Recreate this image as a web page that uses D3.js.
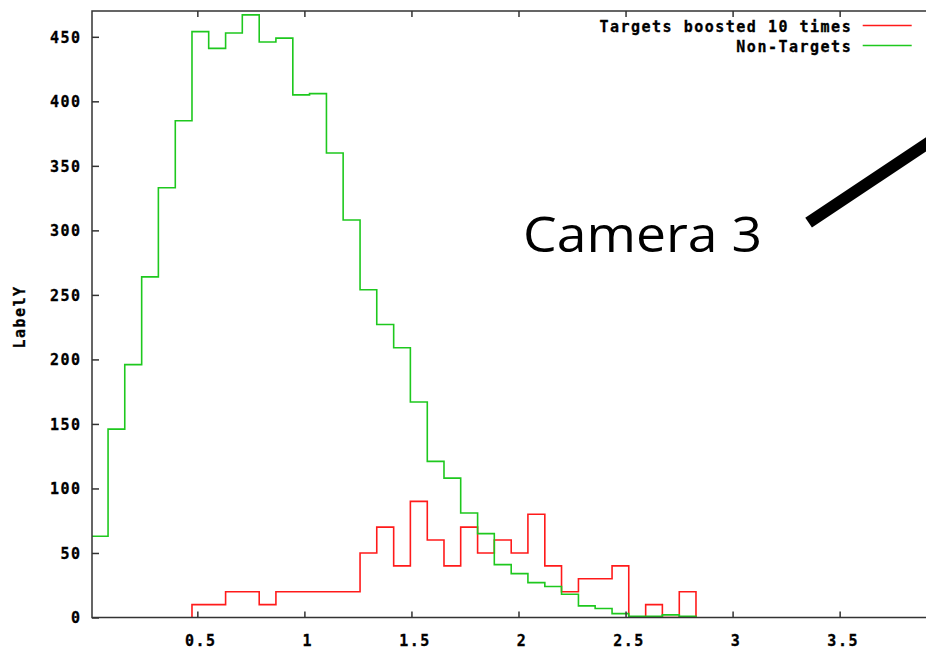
<!DOCTYPE html>
<html>
<head>
<meta charset="utf-8">
<script src="https://cdn.jsdelivr.net/npm/d3@7"></script>
<style>
  body { margin: 0; background: #fff; }
  svg { display: block; }
  .gp { font-family: "DejaVu Sans Mono", monospace; font-weight: bold; font-size: 15px; letter-spacing: 1.5px; fill: #000; stroke: #000; stroke-width: 0.3px; }
</style>
</head>
<body>
<svg id="chart" width="926" height="650"></svg>
<script>

// histogram bin edges (x)
const binEdges = [0.004, 0.083, 0.161, 0.240, 0.318, 0.397, 0.475, 0.553, 0.632, 0.710,
                  0.789, 0.867, 0.946, 1.024, 1.103, 1.181, 1.260, 1.338, 1.417, 1.495,
                  1.574, 1.652, 1.730, 1.809, 1.887, 1.966, 2.044, 2.123, 2.201, 2.280,
                  2.358, 2.437, 2.515, 2.594, 2.672, 2.751, 2.829];

// counts per bin
const nonTargets = [63, 146, 196, 264, 333, 385, 454, 441, 453, 467,
                    446, 449, 405, 406, 360, 308, 254, 227, 209, 167,
                    121, 108, 81, 65, 41, 34, 27, 24, 18, 9,
                    7, 3, 1, 1, 2, 1];

const targets = [null, null, null, null, null, null, 10, 10, 20, 20,
                 10, 20, 20, 20, 20, 20, 50, 70, 40, 90,
                 60, 40, 70, 50, 60, 50, 80, 40, 20, 30,
                 30, 40, 0, 10, 0, 20];

const seriesNames = ["Targets boosted 10 times", "Non-Targets"];
const seriesColors = ["#ff1a1a", "#1ec81e"];

const xTicks = [0.5, 1, 1.5, 2, 2.5, 3, 3.5];
const yTicks = [0, 50, 100, 150, 200, 250, 300, 350, 400, 450];

const width = 926, height = 650;
const plotLeft = 92, plotTop = 11, plotBottom = 617.5, plotRight = 946.7;

let svg = d3.select("#chart");

let x = d3.scaleLinear().domain([0.008, 4]).range([plotLeft, plotRight]);
let y = d3.scaleLinear().domain([0, 470]).range([plotBottom, plotTop]);

svg.append("defs").append("clipPath")
   .attr("id", "plotclip")
   .append("rect")
   .attr("x", plotLeft).attr("y", plotTop)
   .attr("width", plotRight - plotLeft).attr("height", plotBottom - plotTop);

// histeps: up from zero, across each bin, back down at the end
function stepPoints(values){
  let pts = [];
  let first = values.findIndex((v)=> v != null);
  pts.push([binEdges[first], 0]);
  for (let i = first; i < values.length; i++){
    pts.push([binEdges[i], values[i]]);
    pts.push([binEdges[i+1], values[i]]);
  }
  pts.push([binEdges[values.length], 0]);
  return pts;
}

let line = d3.line()
    .x((d)=> x(d[0]))
    .y((d)=> y(d[1]));

let plot = svg.append("g").attr("clip-path", "url(#plotclip)");

[targets, nonTargets].forEach((vals, i)=>{
  plot.append("path")
      .attr("d", line(stepPoints(vals)))
      .attr("fill", "none")
      .attr("stroke", seriesColors[i])
      .attr("stroke-width", 1.6)
      .attr("stroke-linejoin", "miter");
});

// axes, ticks pointing inwards
let xAxis = svg.append("g")
    .attr("transform", `translate(0,${plotBottom})`)
    .call(d3.axisBottom(x).tickValues(xTicks).tickFormat(d3.format("~g")).tickSize(-6).tickPadding(17.5));

svg.append("g")
   .attr("transform", `translate(0,${plotTop})`)
   .call(d3.axisTop(x).tickValues(xTicks).tickSize(-6).tickFormat(""));

let yAxis = svg.append("g")
    .attr("transform", `translate(${plotLeft},0)`)
    .call(d3.axisLeft(y).tickValues(yTicks).tickSize(-7).tickPadding(10.5));

svg.selectAll(".domain").remove();
svg.selectAll(".tick line").attr("stroke", "#333").attr("stroke-width", 1.5);
svg.selectAll(".tick text")
   .attr("class", "gp")
   .attr("font-family", null).attr("font-size", null);
xAxis.selectAll(".tick text").attr("dx", 3);
yAxis.selectAll(".tick text").attr("dy", "0.36em");

// frame
svg.append("rect")
   .attr("x", plotLeft).attr("y", plotTop)
   .attr("width", plotRight - plotLeft).attr("height", plotBottom - plotTop)
   .attr("fill", "none")
   .attr("stroke", "#333")
   .attr("stroke-width", 1.5);

// y label
svg.append("text")
   .attr("class", "gp")
   .attr("transform", "translate(24.5,317) rotate(-90)")
   .attr("text-anchor", "middle")
   .text("LabelY");

// legend
let legend = svg.append("g")
    .selectAll("g")
    .data(seriesNames)
    .enter()
    .append("g")
    .attr("transform", (d,i)=> `translate(0,${25.5 + i*20})`);

legend.append("text")
      .attr("class", "gp")
      .attr("text-anchor", "end")
      .attr("x", plotRight - 94.5)
      .attr("y", 6.5)
      .text((d)=> d);

legend.append("line")
      .attr("x1", plotRight - 84)
      .attr("x2", plotRight - 35)
      .attr("y1", 0)
      .attr("y2", 0)
      .attr("stroke", (d,i)=> seriesColors[i])
      .attr("stroke-width", 1.6);

// slide annotation
svg.append("text")
   .attr("x", 523)
   .attr("y", 252)
   .attr("font-family", "'Open Sans', sans-serif")
   .attr("font-size", 50)
   .attr("textLength", 239)
   .attr("lengthAdjust", "spacingAndGlyphs")
   .attr("fill", "#000")
   .text("Camera 3");

svg.append("line")
   .attr("x1", x(3.355))
   .attr("y1", y(306))
   .attr("x2", x(4.06))
   .attr("y2", y(384))
   .attr("stroke", "#000")
   .attr("stroke-width", 12);

</script>
</body>
</html>
